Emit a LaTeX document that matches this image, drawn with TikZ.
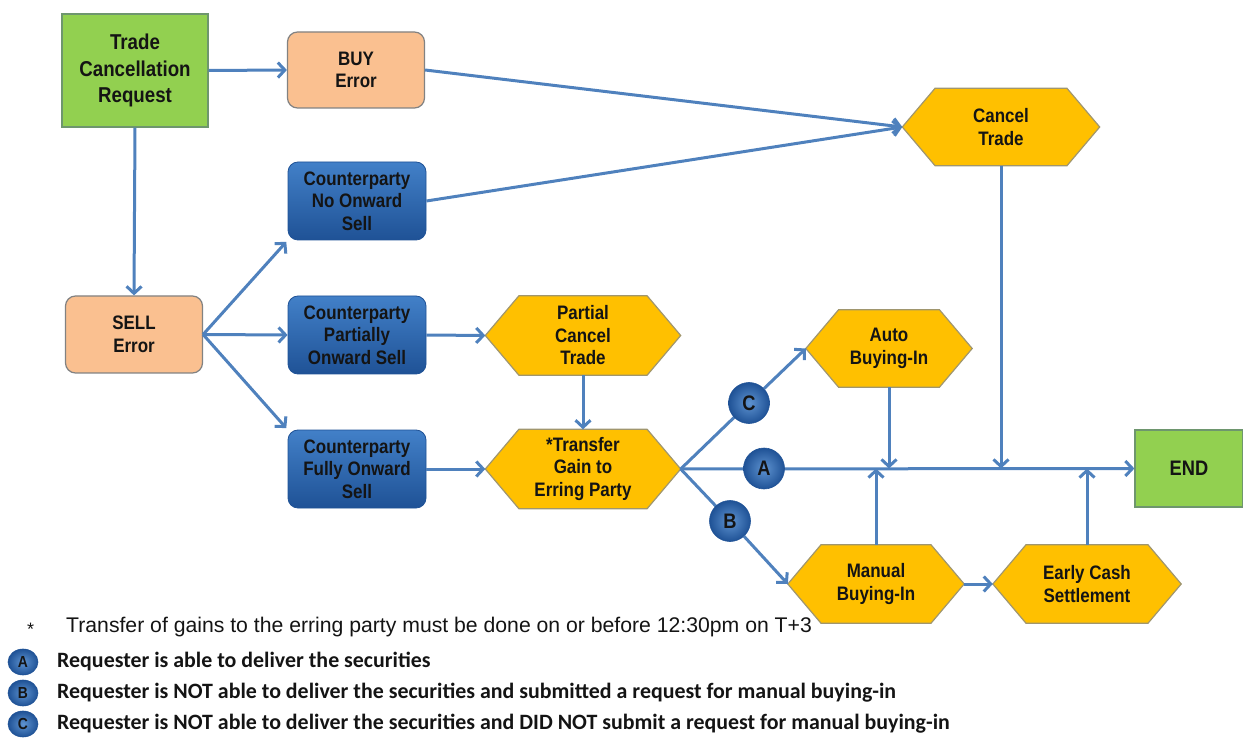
\documentclass[tikz,border=0pt]{standalone}
\usepackage{fontspec}
\setmainfont{Liberation Sans}
\newfontfamily\nfont[FakeStretch=0.87]{Liberation Sans}
\newfontfamily\calfnt{Carlito}
\usetikzlibrary{arrows.meta,shapes.geometric}
\pgfdeclarelayer{bg}
\pgfsetlayers{bg,main}

\definecolor{lineblue}{RGB}{79,129,189}
\definecolor{grn}{RGB}{146,208,80}
\definecolor{grnb}{RGB}{110,150,110}
\definecolor{org}{RGB}{250,192,144}
\definecolor{orgb}{RGB}{130,130,130}
\definecolor{bluetop}{RGB}{66,128,200}
\definecolor{bluebot}{RGB}{31,82,150}
\definecolor{hexf}{RGB}{255,192,0}
\definecolor{hexb}{RGB}{160,150,110}
\definecolor{ink}{RGB}{20,20,20}

\tikzset{
  conn/.style={draw=lineblue, line width=3pt, -{Straight Barb[length=7pt,width=15pt]}},
  plain/.style={draw=lineblue, line width=3pt},
  txt/.style={font=\nfont\bfseries\fontsize{19.5}{22.5}\selectfont, text=ink, align=center, inner sep=2pt},
  greenbox/.style={txt, rectangle, fill=grn, draw=grnb, line width=1.2pt},
  orangebox/.style={txt, rectangle, rounded corners=10pt, fill=org, draw=orgb, line width=1.2pt},
  bluebox/.style={txt, rectangle, rounded corners=10pt, top color=bluetop, bottom color=bluebot, draw=bluebot, line width=0.8pt, minimum width=138pt, minimum height=78pt},
  hexbox/.style={txt, rectangle, inner sep=1pt},
  badge/.style={circle, inner color=bluetop!85!white, outer color=bluebot, draw=bluebot, line width=0.6pt, minimum size=41pt, inner sep=0pt, font=\nfont\bfseries\fontsize{21}{21}\selectfont, text=ink},
  smallbadge/.style={ellipse, inner color=bluetop!85!white, outer color=bluebot, draw=bluebot, line width=0.6pt, minimum width=30pt, minimum height=26pt, inner sep=0pt, font=\nfont\bfseries\fontsize{16}{16}\selectfont, text=ink},
  legend/.style={anchor=west, inner sep=0pt, text=ink},
}

\newcommand\hexnode[6]{%
  \node[hexbox, minimum width=#4pt, minimum height=#5pt] (#1) at (#2,#3) {#6};
  \pgfmathsetmacro\hexd{0.85*#5/2}%
  \begin{pgfonlayer}{bg}
    \path[fill=hexf, draw=hexb, line width=1.2pt] (#1.west) -- ([xshift=\hexd pt]#1.north west) -- ([xshift=-\hexd pt]#1.north east) -- (#1.east) -- ([xshift=-\hexd pt]#1.south east) -- ([xshift=\hexd pt]#1.south west) -- cycle;
  \end{pgfonlayer}
}

\begin{document}
\begin{tikzpicture}[x=1pt, y=-1pt]
\useasboundingbox (0,0) rectangle (1243,743);

% boxes
\node[greenbox, minimum width=146pt, minimum height=113pt, font=\nfont\bfseries\fontsize{21.5}{26.5}\selectfont] (tcr) at (135,70.5) {Trade\\Cancellation\\Request};
\node[orangebox, minimum width=137pt, minimum height=76pt] (buy) at (356,70) {BUY\\Error};
\node[orangebox, minimum width=137pt, minimum height=77pt] (sell) at (134,334.5) {SELL\\Error};
\node[bluebox] (cno) at (357,201) {Counterparty\\No Onward\\Sell};
\node[bluebox] (cpos) at (357,335) {Counterparty\\Partially\\Onward Sell};
\node[bluebox] (cfos) at (357,469) {Counterparty\\Fully Onward\\Sell};

\hexnode{cancel}{1001}{127}{197}{77}{Cancel\\Trade}
\hexnode{pct}{583}{335.5}{195}{79}{Partial\\Cancel\\Trade}
\hexnode{tg}{583}{469}{195}{79}{*Transfer\\Gain to\\Erring Party}
\hexnode{auto}{889}{348.5}{166}{77}{Auto\\Buying-In}
\hexnode{manual}{876}{584}{176}{78}{Manual\\Buying-In}
\hexnode{early}{1087}{584}{188}{78}{Early Cash\\Settlement}

\node[greenbox, minimum width=108pt, minimum height=77pt, font=\nfont\bfseries\fontsize{21}{21}\selectfont] (endn) at (1189,468.5) {END};

% connectors
\draw[conn] (tcr.east) -- (buy.west);
\draw[conn] (tcr.south) -- (sell.north);
\draw[conn] (buy.east) -- (cancel.west);
\draw[conn] (cno.east) -- (cancel.west);
\draw[conn, shorten >=2pt] (sell.east) -- (cno.south west);
\draw[conn] (sell.east) -- (cpos.west);
\draw[conn, shorten >=2pt] (sell.east) -- (cfos.north west);
\draw[conn] (cpos.east) -- (pct.west);
\draw[conn] (pct.south) -- (tg.north);
\draw[conn] (cfos.east) -- (tg.west);

\coordinate (pc) at (749,403);
\coordinate (pa) at (764,468.5);
\coordinate (pb) at (730,521);
\draw[plain] (tg.east) -- (pc);
\draw[plain] (tg.east) -- (pb);
\draw[conn] (tg.east) -- (endn.west);
\draw[conn] (auto.south) -- (auto.south |- endn.west);
\draw[conn] (cancel.south) -- (cancel.south |- endn.west);
\draw[conn] (manual.north) -- (manual.north |- endn.west);
\draw[conn] (early.north) -- (early.north |- endn.west);
\draw[conn] (manual.east) -- (early.west);

\node[badge] (bc) at (pc) {C};
\node[badge] (ba) at (pa) {A};
\node[badge] (bb) at (pb) {B};
\draw[conn] (bc) -- (auto.west);
\draw[conn] (bb) -- (manual.west);

% legend
\node[legend, font=\fontsize{18}{18}\selectfont] (star) at (27,629) {*};
\node[legend, font=\fontsize{21.2}{21.2}\selectfont] (l0) at (66,627) {Transfer of gains to the erring party must be done on or before 12:30pm on T+3};
\node[smallbadge] (la) at (23,662) {A};
\node[smallbadge] (lb) at (23,693) {B};
\node[smallbadge] (lc) at (23,724) {C};
\node[legend, font=\calfnt\bfseries\fontsize{21.9}{21.9}\selectfont] (l1) at (57,662) {Requester is able to deliver the securities};
\node[legend, font=\calfnt\bfseries\fontsize{21.9}{21.9}\selectfont] (l2) at (57,693) {Requester is NOT able to deliver the securities and submitted a request for manual buying-in};
\node[legend, font=\calfnt\bfseries\fontsize{21.9}{21.9}\selectfont] (l3) at (57,724) {Requester is NOT able to deliver the securities and DID NOT submit a request for manual buying-in};
\end{tikzpicture}
\end{document}
